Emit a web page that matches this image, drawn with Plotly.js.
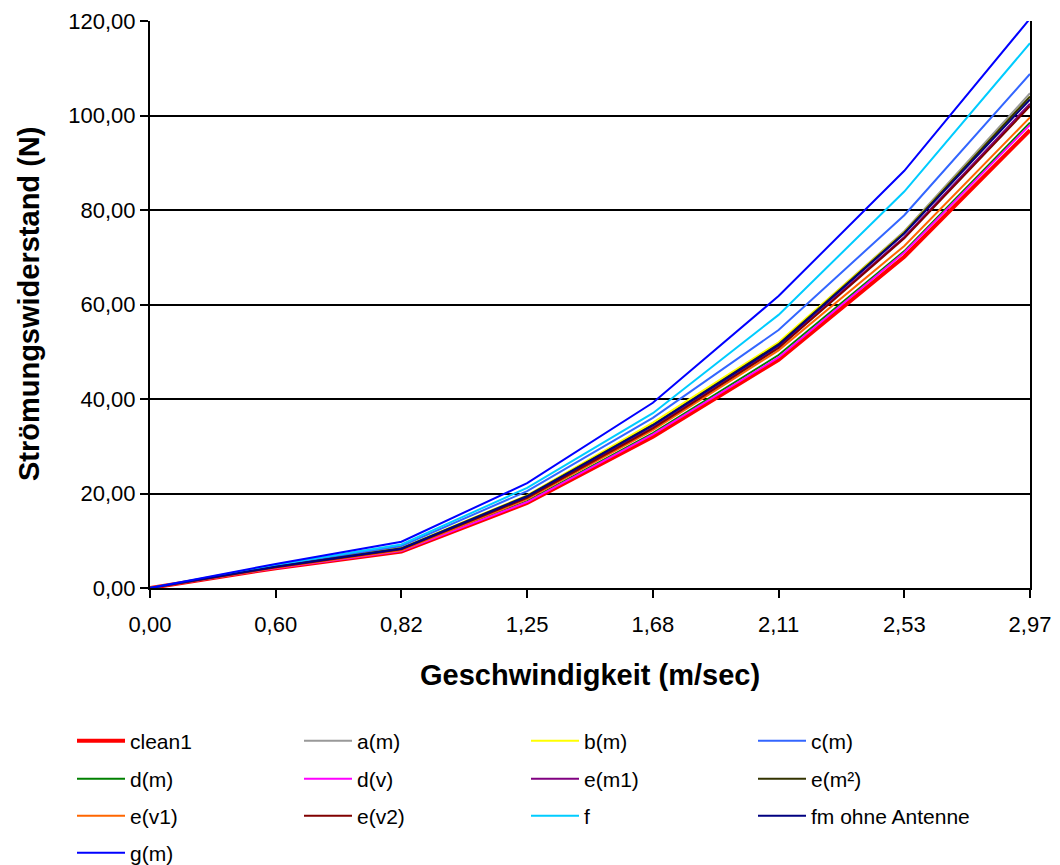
<!DOCTYPE html>
<html>
<head>
<meta charset="utf-8">
<script src="https://cdn.plot.ly/plotly-3.0.1.min.js"></script>
<style>html,body{margin:0;padding:0;background:#fff;}#chart{width:1060px;height:865px;}</style>
</head>
<body>
<div id="chart"></div>
<script>
const speeds = ["0,00", "0,60", "0,82", "1,25", "1,68", "2,11", "2,53", "2,97"];

const clean1 = [0, 4.2, 7.7, 18.0, 32.0, 48.3, 70.1, 96.9];
const a_m    = [0, 4.5, 8.4, 19.5, 34.7, 51.8, 75.5, 104.7];
const b_m    = [0, 4.5, 8.5, 19.6, 35.0, 52.0, 75.3, 104.0];
const c_m    = [0, 4.7, 8.9, 20.5, 36.0, 54.6, 78.9, 108.8];
const d_m    = [0, 4.3, 7.9, 18.4, 32.8, 49.3, 71.3, 98.5];
const d_v    = [0, 4.2, 7.8, 18.2, 32.5, 48.8, 71.0, 98.0];
const e_m1   = [0, 4.4, 8.2, 19.2, 34.0, 51.0, 74.3, 102.5];
const e_m2   = [0, 4.5, 8.4, 19.5, 34.5, 51.6, 75.2, 104.0];
const e_v1   = [0, 4.3, 8.0, 18.8, 33.4, 50.3, 72.4, 99.6];
const e_v2   = [0, 4.4, 8.2, 19.1, 33.8, 50.8, 74.0, 102.0];
const f_     = [0, 4.9, 9.2, 21.2, 37.0, 57.8, 83.9, 115.3];
const fm     = [0, 4.5, 8.3, 19.4, 34.4, 51.4, 75.0, 103.4];
const g_m    = [0, 5.1, 9.8, 22.2, 39.2, 61.8, 88.3, 120.5];

const seriesNames  = ["clean1", "a(m)", "b(m)", "c(m)", "d(m)", "d(v)", "e(m1)", "e(m²)", "e(v1)", "e(v2)", "f", "fm ohne Antenne", "g(m)"];
const seriesValues = [clean1, a_m, b_m, c_m, d_m, d_v, e_m1, e_m2, e_v1, e_v2, f_, fm, g_m];
const seriesColors = ["#FF0000", "#999999", "#FFFF00", "#3366FF", "#008000", "#FF00FF", "#800080", "#333300", "#FF6600", "#800000", "#00CCFF", "#000080", "#0000FF"];
const seriesWidths = [4, 2, 2, 2, 2, 2, 2, 2, 2, 2, 2, 2, 2];

const xTitle = "Geschwindigkeit (m/sec)";
const yTitle = "Strömungswiderstand (N)";

const font = "Arial, 'Liberation Sans', sans-serif";

// legend grid: 4 columns, row-major
const legendColX = [72, 299, 526, 753];
const legendRowY = [741, 779, 816, 853];

const traces = seriesNames.map((n, i) => ({
  type: "scatter",
  mode: "lines",
  name: n,
  x: speeds,
  y: seriesValues[i],
  line: {color: seriesColors[i], width: seriesWidths[i]},
  legend: i === 0 ? "legend" : "legend" + (i + 1)
}));

const layout = {
  width: 1060,
  height: 865,
  separators: ", ",
  paper_bgcolor: "#fff",
  plot_bgcolor: "#fff",
  margin: {l: 150, r: 30, t: 21, b: 277, autoexpand: false},
  font: {family: font, size: 22, color: "#000"},
  showlegend: true,
  xaxis: {
    type: "category",
    range: [0, 7],
    showgrid: false,
    showline: true,
    linecolor: "#000",
    linewidth: 2,
    ticks: "outside",
    ticklen: 8,
    tickwidth: 2,
    tickcolor: "#000",
    ticklabelstandoff: 8,
    tickangle: 0,
    tickfont: {family: font, size: 22},
    zeroline: false
  },
  yaxis: {
    range: [0, 120],
    tickvals: [0, 20, 40, 60, 80, 100, 120],
    tickformat: ".2f",
    showgrid: true,
    gridcolor: "#000",
    gridwidth: 2,
    showline: true,
    linecolor: "#000",
    linewidth: 2,
    mirror: true,
    ticks: "outside",
    ticklen: 8,
    tickwidth: 2,
    tickcolor: "#000",
    tickfont: {family: font, size: 22},
    zeroline: false
  },
  annotations: [
    {
      text: "<b>" + xTitle + "</b>",
      xref: "paper", yref: "paper",
      x: 0.5, y: -0.153,
      xanchor: "center", yanchor: "middle",
      showarrow: false,
      font: {family: font, size: 29, color: "#000"}
    },
    {
      text: "<b>" + yTitle + "</b>",
      xref: "paper", yref: "paper",
      x: -0.138, y: 0.5,
      xanchor: "center", yanchor: "middle",
      textangle: -90,
      showarrow: false,
      font: {family: font, size: 29, color: "#000"}
    }
  ]
};

seriesNames.forEach((n, i) => {
  const key = i === 0 ? "legend" : "legend" + (i + 1);
  layout[key] = {
    xref: "container",
    yref: "container",
    x: legendColX[i % 4] / 1060,
    y: 1 - legendRowY[Math.floor(i / 4)] / 865,
    xanchor: "left",
    yanchor: "middle",
    itemwidth: 48,
    bgcolor: "rgba(0,0,0,0)",
    font: {family: font, size: 21, color: "#000"}
  };
});

Plotly.newPlot("chart", traces, layout, {displayModeBar: false, staticPlot: true});
</script>
</body>
</html>
